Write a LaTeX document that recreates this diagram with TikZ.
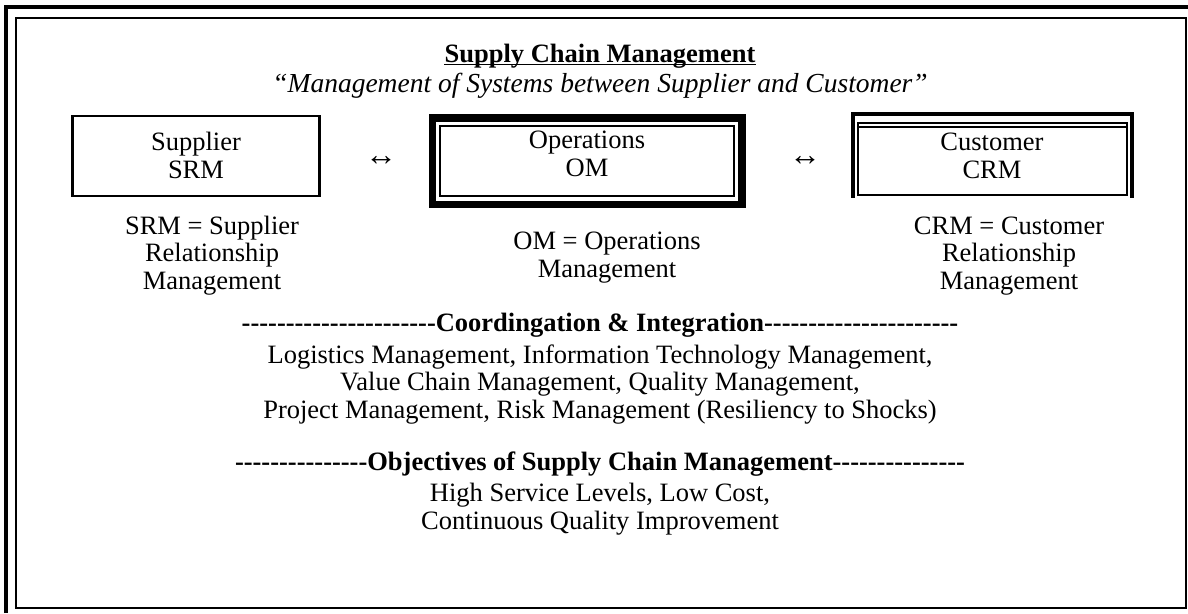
\documentclass[tikz,border=0pt]{standalone}
\usepackage{fontspec}
\setmainfont{Liberation Serif}
\newcommand\hyphrun[1]{\count255=0 \loop\ifnum\count255<#1 -\kern0pt\advance\count255 by 1 \repeat}
\begin{document}
\begin{tikzpicture}[x=1pt,y=-1pt,
  txt/.style={inner sep=0pt, align=center, font=\fontsize{26.5}{28}\selectfont},
  btxt/.style={txt, font=\fontsize{26.5}{28}\selectfont\bfseries},
  itxt/.style={txt, font=\fontsize{27.5}{28}\selectfont\itshape},
  deftxt/.style={txt, font=\fontsize{26.5}{27.5}\selectfont},
  arrowtxt/.style={txt, font=\fontsize{32}{32}\selectfont},
  plainbox/.style={draw, inner sep=0pt, line width=2.3pt, minimum width=247pt, minimum height=80pt},
  ombox/.style={draw, inner sep=0pt, line width=1.6pt, minimum width=294pt, minimum height=70pt},
  crmbox/.style={draw, inner sep=0pt, line width=2pt, minimum width=269pt, minimum height=72.6pt},
  thickrule/.style={line width=7.5pt},
  crmrule/.style={line width=4pt},
  thinrule/.style={line width=2pt}
]
\useasboundingbox (0,0) rectangle (1188,613);
% frame
\draw[line width=4pt] (6,613) -- (6,7) -- (1188,7);
\draw[line width=2pt] (16,18) rectangle (1186,607.7);

% title
\node[btxt, anchor=base] (title) at (600,62) {Supply Chain Management};
\draw[line width=1.5pt] ([yshift=-2.5pt]title.base west) -- ([yshift=-2.5pt]title.base east);
\node[itxt, anchor=base] (sub) at (600,92) {“Management of Systems between Supplier and Customer”};

% boxes (anchor base = baseline of last line)
\node[plainbox] (sup) at (196,156.3) {};
\node[txt, anchor=base] (supt) at (196,178) {Supplier\\SRM};

\node[ombox] (om) at (587,161) {};
\draw[thickrule] ([xshift=-6.5pt,yshift=7.2pt]om.north west) rectangle ([xshift=7pt,yshift=-7.5pt]om.south east);
\node[txt, anchor=base] (omt) at (587,176) {Operations\\OM};

\node[crmbox] (cus) at (992.35,159) {};
\draw[crmrule] ([xshift=-4pt,yshift=-1.4pt]cus.south west) -- ([xshift=-4pt,yshift=7.4pt]cus.north west)
  -- ([xshift=4.3pt,yshift=7.4pt]cus.north east) -- ([xshift=4.3pt,yshift=-1.4pt]cus.south east);
\draw[thinrule] ([yshift=-5.6pt]cus.north west) -- ([yshift=-5.6pt]cus.north east);
\node[txt, anchor=base] (cust) at (992,178) {Customer\\CRM};

% arrows
\node[arrowtxt] (a1) at (381,161) {↔};
\node[arrowtxt] (a2) at (805,161) {↔};

% definitions
\node[deftxt, anchor=base] (srmdef) at (212,289) {SRM = Supplier\\Relationship\\Management};
\node[deftxt, anchor=base] (omdef) at (607,277) {OM = Operations\\Management};
\node[deftxt, anchor=base] (crmdef) at (1009,289) {CRM = Customer\\Relationship\\Management};

% coordination
\node[btxt, anchor=base] (coord) at (600,331) {\hyphrun{22}Coordingation \& Integration\hyphrun{22}};
\node[deftxt, anchor=base] (list) at (600,418) {Logistics Management, Information Technology Management,\\Value Chain Management, Quality Management,\\Project Management, Risk Management (Resiliency to Shocks)};

% objectives
\node[btxt, anchor=base] (obj) at (600,470) {\hyphrun{15}Objectives of Supply Chain Management\hyphrun{15}};
\node[deftxt, anchor=base] (objl) at (600,529) {High Service Levels, Low Cost,\\Continuous Quality Improvement};
\end{tikzpicture}
\end{document}
